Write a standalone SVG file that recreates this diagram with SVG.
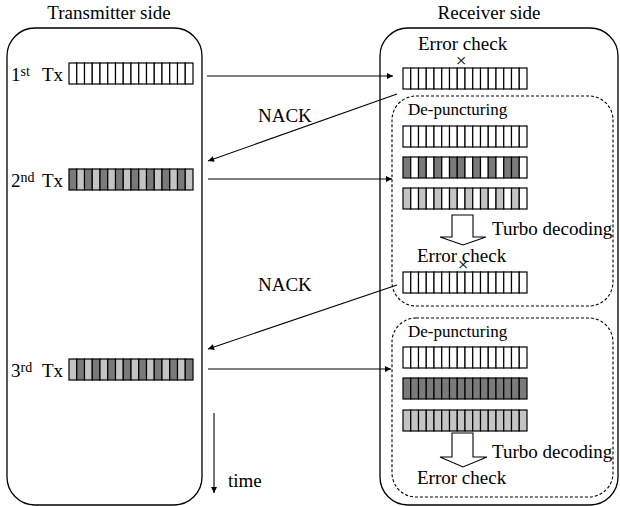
<svg xmlns="http://www.w3.org/2000/svg" width="620" height="506" viewBox="0 0 620 506">
<defs>
<style>
text{font-family:"Liberation Serif","Times New Roman",serif;font-size:19px;fill:#000}
.sup{font-size:14px}
.dp{font-size:17px}
.box{fill:none;stroke:#000;stroke-width:1.3}
.dash{fill:none;stroke:#000;stroke-width:1.1;stroke-dasharray:3 2}
.w{fill:#fff;stroke:#000;stroke-width:1.2}
.d{fill:#7a7a7a;stroke:#000;stroke-width:1.2}
.l{fill:#c4c4c4;stroke:#000;stroke-width:1.2}
.conn{stroke:#000;stroke-width:1.1;fill:none;marker-end:url(#ah)}
.hollow{fill:#fff;stroke:#000;stroke-width:1.1}
</style>
<marker id="ah" viewBox="0 0 10 10" refX="10" refY="5" markerWidth="8" markerHeight="6" markerUnits="userSpaceOnUse" orient="auto">
<path d="M0,0 L10,5 L0,10 Z" fill="#000"/>
</marker>
<g id="barW">
<rect class="w" x="0" y="0" width="7.75" height="21"/><rect class="w" x="7.75" y="0" width="7.75" height="21"/><rect class="w" x="15.5" y="0" width="7.75" height="21"/><rect class="w" x="23.25" y="0" width="7.75" height="21"/><rect class="w" x="31" y="0" width="7.75" height="21"/><rect class="w" x="38.75" y="0" width="7.75" height="21"/><rect class="w" x="46.5" y="0" width="7.75" height="21"/><rect class="w" x="54.25" y="0" width="7.75" height="21"/><rect class="w" x="62" y="0" width="7.75" height="21"/><rect class="w" x="69.75" y="0" width="7.75" height="21"/><rect class="w" x="77.5" y="0" width="7.75" height="21"/><rect class="w" x="85.25" y="0" width="7.75" height="21"/><rect class="w" x="93" y="0" width="7.75" height="21"/><rect class="w" x="100.75" y="0" width="7.75" height="21"/><rect class="w" x="108.5" y="0" width="7.75" height="21"/><rect class="w" x="116.25" y="0" width="7.75" height="21"/>
</g>
<g id="barD">
<rect class="d" x="0" y="0" width="7.75" height="21"/><rect class="d" x="7.75" y="0" width="7.75" height="21"/><rect class="d" x="15.5" y="0" width="7.75" height="21"/><rect class="d" x="23.25" y="0" width="7.75" height="21"/><rect class="d" x="31" y="0" width="7.75" height="21"/><rect class="d" x="38.75" y="0" width="7.75" height="21"/><rect class="d" x="46.5" y="0" width="7.75" height="21"/><rect class="d" x="54.25" y="0" width="7.75" height="21"/><rect class="d" x="62" y="0" width="7.75" height="21"/><rect class="d" x="69.75" y="0" width="7.75" height="21"/><rect class="d" x="77.5" y="0" width="7.75" height="21"/><rect class="d" x="85.25" y="0" width="7.75" height="21"/><rect class="d" x="93" y="0" width="7.75" height="21"/><rect class="d" x="100.75" y="0" width="7.75" height="21"/><rect class="d" x="108.5" y="0" width="7.75" height="21"/><rect class="d" x="116.25" y="0" width="7.75" height="21"/>
</g>
<g id="barL">
<rect class="l" x="0" y="0" width="7.75" height="21"/><rect class="l" x="7.75" y="0" width="7.75" height="21"/><rect class="l" x="15.5" y="0" width="7.75" height="21"/><rect class="l" x="23.25" y="0" width="7.75" height="21"/><rect class="l" x="31" y="0" width="7.75" height="21"/><rect class="l" x="38.75" y="0" width="7.75" height="21"/><rect class="l" x="46.5" y="0" width="7.75" height="21"/><rect class="l" x="54.25" y="0" width="7.75" height="21"/><rect class="l" x="62" y="0" width="7.75" height="21"/><rect class="l" x="69.75" y="0" width="7.75" height="21"/><rect class="l" x="77.5" y="0" width="7.75" height="21"/><rect class="l" x="85.25" y="0" width="7.75" height="21"/><rect class="l" x="93" y="0" width="7.75" height="21"/><rect class="l" x="100.75" y="0" width="7.75" height="21"/><rect class="l" x="108.5" y="0" width="7.75" height="21"/><rect class="l" x="116.25" y="0" width="7.75" height="21"/>
</g>
</defs>
<rect width="620" height="506" fill="#fff"/>

<g id="transmitter">
<text x="109" y="19" text-anchor="middle">Transmitter side</text>
<rect class="box" x="7" y="28" width="195" height="477" rx="28"/>
</g>

<g id="tx1">
<text x="11" y="81">1<tspan class="sup" dy="-5">st</tspan><tspan x="42" dy="5">Tx</tspan></text>
<use href="#barW" x="69" y="63"/>
</g>

<g id="tx2">
<text x="11" y="187">2<tspan class="sup" dy="-5">nd</tspan><tspan x="42" dy="5">Tx</tspan></text>
<g transform="translate(69,169)">
<rect class="d" x="0" y="0" width="7.75" height="21"/><rect class="l" x="7.75" y="0" width="7.75" height="21"/><rect class="d" x="15.5" y="0" width="7.75" height="21"/><rect class="l" x="23.25" y="0" width="7.75" height="21"/><rect class="d" x="31" y="0" width="7.75" height="21"/><rect class="l" x="38.75" y="0" width="7.75" height="21"/><rect class="d" x="46.5" y="0" width="7.75" height="21"/><rect class="l" x="54.25" y="0" width="7.75" height="21"/><rect class="d" x="62" y="0" width="7.75" height="21"/><rect class="l" x="69.75" y="0" width="7.75" height="21"/><rect class="d" x="77.5" y="0" width="7.75" height="21"/><rect class="l" x="85.25" y="0" width="7.75" height="21"/><rect class="d" x="93" y="0" width="7.75" height="21"/><rect class="l" x="100.75" y="0" width="7.75" height="21"/><rect class="d" x="108.5" y="0" width="7.75" height="21"/><rect class="l" x="116.25" y="0" width="7.75" height="21"/>
</g>
</g>

<g id="tx3">
<text x="11" y="377">3<tspan class="sup" dy="-5">rd</tspan><tspan x="42" dy="5">Tx</tspan></text>
<g transform="translate(69,359)">
<rect class="l" x="0" y="0" width="7.75" height="21"/><rect class="d" x="7.75" y="0" width="7.75" height="21"/><rect class="l" x="15.5" y="0" width="7.75" height="21"/><rect class="d" x="23.25" y="0" width="7.75" height="21"/><rect class="l" x="31" y="0" width="7.75" height="21"/><rect class="d" x="38.75" y="0" width="7.75" height="21"/><rect class="l" x="46.5" y="0" width="7.75" height="21"/><rect class="d" x="54.25" y="0" width="7.75" height="21"/><rect class="l" x="62" y="0" width="7.75" height="21"/><rect class="d" x="69.75" y="0" width="7.75" height="21"/><rect class="l" x="77.5" y="0" width="7.75" height="21"/><rect class="d" x="85.25" y="0" width="7.75" height="21"/><rect class="l" x="93" y="0" width="7.75" height="21"/><rect class="d" x="100.75" y="0" width="7.75" height="21"/><rect class="l" x="108.5" y="0" width="7.75" height="21"/><rect class="d" x="116.25" y="0" width="7.75" height="21"/>
</g>
</g>

<g id="receiver">
<text x="489" y="19" text-anchor="middle">Receiver side</text>
<rect class="box" x="380" y="28" width="238" height="477" rx="28"/>
</g>

<g id="rx1">
<text x="418" y="50">Error check</text>
<text x="461" y="67" text-anchor="middle" font-size="11">×</text>
<use href="#barW" x="403" y="68"/>
</g>

<g id="rx2">
<rect class="dash" x="392" y="96" width="221" height="210" rx="24"/>
<text class="dp" x="408" y="115">De-puncturing</text>
<use href="#barW" x="403" y="126"/>
<g transform="translate(403,157)">
<rect class="d" x="0" y="0" width="7.75" height="21"/><rect class="w" x="7.75" y="0" width="7.75" height="21"/><rect class="d" x="15.5" y="0" width="7.75" height="21"/><rect class="w" x="23.25" y="0" width="7.75" height="21"/><rect class="d" x="31" y="0" width="7.75" height="21"/><rect class="w" x="38.75" y="0" width="7.75" height="21"/><rect class="d" x="46.5" y="0" width="7.75" height="21"/><rect class="d" x="54.25" y="0" width="7.75" height="21"/><rect class="w" x="62" y="0" width="7.75" height="21"/><rect class="d" x="69.75" y="0" width="7.75" height="21"/><rect class="w" x="77.5" y="0" width="7.75" height="21"/><rect class="d" x="85.25" y="0" width="7.75" height="21"/><rect class="w" x="93" y="0" width="7.75" height="21"/><rect class="d" x="100.75" y="0" width="7.75" height="21"/><rect class="d" x="108.5" y="0" width="7.75" height="21"/><rect class="w" x="116.25" y="0" width="7.75" height="21"/>
</g>
<g transform="translate(403,188)">
<rect class="l" x="0" y="0" width="7.75" height="21"/><rect class="w" x="7.75" y="0" width="7.75" height="21"/><rect class="l" x="15.5" y="0" width="7.75" height="21"/><rect class="w" x="23.25" y="0" width="7.75" height="21"/><rect class="l" x="31" y="0" width="7.75" height="21"/><rect class="w" x="38.75" y="0" width="7.75" height="21"/><rect class="l" x="46.5" y="0" width="7.75" height="21"/><rect class="w" x="54.25" y="0" width="7.75" height="21"/><rect class="l" x="62" y="0" width="7.75" height="21"/><rect class="w" x="69.75" y="0" width="7.75" height="21"/><rect class="l" x="77.5" y="0" width="7.75" height="21"/><rect class="w" x="85.25" y="0" width="7.75" height="21"/><rect class="l" x="93" y="0" width="7.75" height="21"/><rect class="w" x="100.75" y="0" width="7.75" height="21"/><rect class="l" x="108.5" y="0" width="7.75" height="21"/><rect class="w" x="116.25" y="0" width="7.75" height="21"/>
</g>
<path class="hollow" d="M452,215 L473,215 L473,237 L486,237 L463,245 L440,237 L452,237 Z"/>
<text x="492" y="235">Turbo decoding</text>
<text x="417" y="262">Error check</text>
<text x="463" y="271" text-anchor="middle" font-size="11">×</text>
<use href="#barW" x="403" y="272"/>
</g>

<g id="rx3">
<rect class="dash" x="392" y="318" width="221" height="179" rx="24"/>
<text class="dp" x="408" y="337">De-puncturing</text>
<use href="#barW" x="403" y="347"/>
<use href="#barD" x="403" y="378"/>
<use href="#barL" x="403" y="410"/>
<path class="hollow" d="M452,433 L473,433 L473,457 L487,457 L463,467 L440,457 L452,457 Z"/>
<text x="492" y="458">Turbo decoding</text>
<text x="417" y="484">Error check</text>
</g>

<g id="time">
<line class="conn" x1="214" y1="413" x2="214" y2="493"/>
<text x="228" y="487">time</text>
</g>

<g id="connectors">
<line class="conn" x1="207" y1="76" x2="393" y2="76"/>
<line class="conn" x1="397" y1="94" x2="208" y2="161"/>
<text x="258" y="122">NACK</text>
<line class="conn" x1="208" y1="179" x2="392" y2="179"/>
<line class="conn" x1="397" y1="285" x2="208" y2="349"/>
<text x="258" y="291">NACK</text>
<line class="conn" x1="208" y1="369" x2="391" y2="369"/>
</g>
</svg>
